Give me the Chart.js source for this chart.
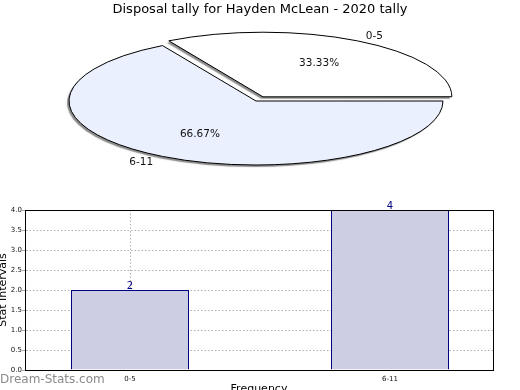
<!DOCTYPE html>
<html>
<head>
<meta charset="utf-8">
<script src="https://cdn.jsdelivr.net/npm/chart.js@4/dist/chart.umd.min.js"></script>
<style>
  html, body { margin: 0; padding: 0; background: #fff; }
  #wrap { position: relative; width: 520px; height: 390px; overflow: hidden; }
  canvas { position: absolute; left: 0; top: 0; }
</style>
</head>
<body>
<div id="wrap">
  <canvas id="bar" width="520" height="390"></canvas>
  <canvas id="pie" width="520" height="390"></canvas>
</div>
<script>
// ---- data ----
const chartTitle = 'Disposal tally for Hayden McLean - 2020 tally';
const categories = ['0-5', '6-11'];
const tallies = [2, 4];
const yTicks = ['0.0', '0.5', '1.0', '1.5', '2.0', '2.5', '3.0', '3.5', '4.0'];
const xAxisTitle = 'Frequency';
const yAxisTitle = 'Stat Intervals';
const watermark = 'Dream-Stats.com';

// ---- style ----
const FONT = '"DejaVu Sans", sans-serif';
const PIE_CX = 256, PIE_CY = 101, PIE_RX = 187, PIE_RY = 64;
const squash = PIE_RY / PIE_RX;

// ---------- PIE (squashed to an ellipse) ----------
const squashPlugin = {
  id: 'squash',
  beforeDatasetsDraw(chart) {
    const ctx = chart.ctx;
    const arc = chart.getDatasetMeta(0).data[0];
    ctx.save();
    ctx.translate(PIE_CX - arc.x, PIE_CY - squash * arc.y);
    ctx.scale(1, squash);
    ctx.shadowColor = 'rgba(120,120,120,0.85)';
    ctx.shadowOffsetX = -2;
    ctx.shadowOffsetY = 2;
    ctx.shadowBlur = 1;
    const orig = CanvasRenderingContext2D.prototype.stroke;
    ctx.stroke = function () {
      this.save();
      this.setTransform(1, 0, 0, 1, 0, 0);
      this.shadowColor = 'rgba(0,0,0,0)';
      orig.apply(this, arguments);
      this.restore();
    };
  },
  afterDatasetsDraw(chart) {
    const ctx = chart.ctx;
    delete ctx.stroke;
    ctx.restore();
    const meta = chart.getDatasetMeta(0);
    const data = chart.data.datasets[0].data;
    const total = data.reduce((a, b) => a + b, 0);
    ctx.save();
    ctx.fillStyle = '#111';
    ctx.font = '10.5px ' + FONT;
    ctx.textBaseline = 'middle';
    meta.data.forEach((a, i) => {
      const mid = (a.startAngle + a.endAngle) / 2;
      const off = (a.options.offset || 0) / 4;
      const cx = PIE_CX + Math.cos(mid) * off;
      const cy = PIE_CY + Math.sin(mid) * off * squash;
      const c = Math.cos(mid), s = Math.sin(mid);
      ctx.textAlign = 'center';
      ctx.fillText((data[i] / total * 100).toFixed(2) + '%', cx + c * 0.6 * PIE_RX, cy + s * 0.6 * PIE_RY);
      ctx.textAlign = c >= 0 ? 'left' : 'right';
      ctx.fillText(chart.data.labels[i], cx + c * 1.1 * PIE_RX, cy + s * 1.1 * PIE_RY);
    });
    ctx.font = '13px ' + FONT;
    ctx.textAlign = 'center';
    ctx.fillStyle = '#000';
    ctx.fillText(chartTitle, 260, 10);
    ctx.restore();
  }
};

new Chart(document.getElementById('pie'), {
  type: 'pie',
  data: {
    labels: categories,
    datasets: [{
      data: tallies,
      backgroundColor: ['#ffffff', '#eaf0fd'],
      borderColor: '#000',
      borderWidth: 1,
      offset: [56, 0],
      radius: PIE_RX,
      clip: false
    }]
  },
  options: {
    responsive: false,
    animation: false,
    events: [],
    rotation: -30,
    layout: { padding: 0 },
    plugins: { legend: { display: false }, tooltip: { enabled: false }, title: { display: false } }
  },
  plugins: [squashPlugin]
});

// ---------- BAR ----------
const barExtras = {
  id: 'barExtras',
  afterDatasetsDraw(chart) {
    const ctx = chart.ctx;
    ctx.save();
    ctx.fillStyle = '#000080';
    ctx.font = '10px ' + FONT;
    ctx.textAlign = 'center';
    ctx.textBaseline = 'bottom';
    chart.getDatasetMeta(0).data.forEach((b, i) => {
      ctx.fillText(String(chart.data.datasets[0].data[i].y), b.x, b.y + 1);
    });
    ctx.restore();
  },
  afterDraw(chart) {
    const ctx = chart.ctx;
    const a = chart.chartArea;
    ctx.save();
    ctx.strokeStyle = '#000';
    ctx.lineWidth = 1;
    ctx.strokeRect(Math.round(a.left) + 0.5, Math.round(a.top) + 0.5, Math.round(a.right - a.left), Math.round(a.bottom - a.top));
    ctx.fillStyle = '#000';
    ctx.font = '11px ' + FONT;
    ctx.textAlign = 'center';
    ctx.textBaseline = 'top';
    ctx.fillText(xAxisTitle, (a.left + a.right) / 2, 384);
    ctx.save();
    ctx.translate(5.5, (a.top + a.bottom) / 2);
    ctx.rotate(-Math.PI / 2);
    ctx.textBaseline = 'alphabetic';
    ctx.fillText(yAxisTitle, 0, 0);
    ctx.restore();
    ctx.fillStyle = '#8a8a8a';
    ctx.font = '12px ' + FONT;
    ctx.textAlign = 'left';
    ctx.textBaseline = 'middle';
    ctx.fillText(watermark, 0, 380);
    ctx.restore();
  }
};

new Chart(document.getElementById('bar'), {
  type: 'bar',
  data: {
    datasets: [{
      data: tallies.map((v, i) => ({ x: i, y: v })),
      backgroundColor: 'rgb(205,205,228)',
      borderColor: '#000080',
      borderWidth: 1,
      borderSkipped: 'bottom',
      barPercentage: 118 / 260,
      categoryPercentage: 1.0
    }]
  },
  options: {
    responsive: false,
    animation: false,
    events: [],
    layout: { padding: { top: 210, left: 0, right: 27, bottom: 0 } },
    plugins: { legend: { display: false }, tooltip: { enabled: false } },
    scales: {
      x: {
        type: 'linear',
        z: 1,
        min: -0.40385, max: 1.39615,
        offset: false,
        afterFit(s) { s.height = 20; },
        afterBuildTicks(s) { s.ticks = categories.map((c, i) => ({ value: i })); },
        grid: { offset: false, color: '#b0b0b0', drawTicks: false },
        border: { display: true, color: '#000', dash: [1.5, 2] },
        ticks: { font: { family: FONT, size: 7 }, color: '#111', padding: 5,
          callback: (v) => categories[v] }
      },
      y: {
        z: 1,
        min: 0, max: 4,
        afterFit(s) { s.width = 25; },
        afterBuildTicks(s) { s.ticks = yTicks.map(v => ({ value: parseFloat(v) })); },
        grid: { color: '#b0b0b0', tickLength: 3, tickColor: '#aaa', tickBorderDash: [] },
        border: { display: true, color: '#000', dash: [1.5, 2] },
        ticks: {
          font: { family: FONT, size: 7 }, color: '#111', padding: 0,
          callback: (v, i) => yTicks[i]
        }
      }
    }
  },
  plugins: [barExtras]
});
</script>
</body>
</html>
